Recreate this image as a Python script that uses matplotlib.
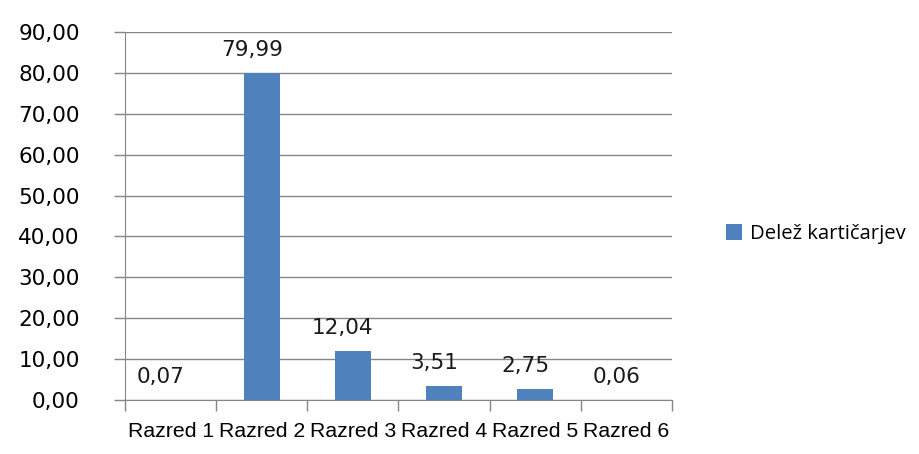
import matplotlib
matplotlib.use("Agg")
import matplotlib.pyplot as plt
from matplotlib.patches import Patch
from matplotlib.ticker import FuncFormatter

# podatki
categories = ["Razred 1", "Razred 2", "Razred 3", "Razred 4", "Razred 5", "Razred 6"]
values = [0.07, 79.99, 12.04, 3.51, 2.75, 0.06]
series_name = "Delež kartičarjev"

bar_color = "#4F81BD"
grid_color = "#868686"

plt.rcParams['font.family'] = ['DejaVu Sans']

fig = plt.figure(figsize=(9.2, 4.54), dpi=100)
ax = fig.add_axes([125 / 920, 1 - 400 / 454, (672 - 125) / 920, (400 - 32) / 454])

x = list(range(len(categories)))
ax.bar(x, values, width=0.4, color=bar_color, zorder=3)

ax.set_xlim(-0.5, len(categories) - 0.5)
ax.set_ylim(0, 90)
ax.set_yticks(range(0, 91, 10))
ax.yaxis.set_major_formatter(FuncFormatter(lambda v, p: f"{v:.2f}".replace(".", ",")))

# kategorije med kljukicami
ax.set_xticks([i - 0.5 for i in range(len(categories) + 1)])
ax.set_xticklabels([])
ax.set_xticks(x, minor=True)
ax.set_xticklabels(categories, minor=True, fontsize=15.3, family="Liberation Sans")
ax.tick_params(axis="x", which="minor", length=0, pad=16)
ax.tick_params(axis="x", which="major", length=8, color=grid_color, width=1)
ax.tick_params(axis="y", length=8, color=grid_color, width=1, pad=24.5, labelsize=15.5)

ax.grid(axis="y", color=grid_color, linewidth=1, zorder=0)
for side in ["top", "right"]:
    ax.spines[side].set_visible(False)
for side in ["left", "bottom"]:
    ax.spines[side].set_color(grid_color)

for i, v in enumerate(values):
    ax.annotate(f"{v:.2f}".replace(".", ","), xy=(i, v), xytext=(-10, 17),
                textcoords="offset pixels", ha="center", va="baseline", fontsize=15.5,
                color="#1a1a1a")

handle = Patch(facecolor=bar_color, edgecolor="none")
fig.legend([handle], [series_name], loc="center left", bbox_to_anchor=(708 / 920, 1 - 234 / 454),
           frameon=False, handlelength=0.8, handleheight=0.8, handletextpad=0.35,
           prop={"family": "Open Sans", "size": 14.6})

fig.savefig("out.png", dpi=100)
